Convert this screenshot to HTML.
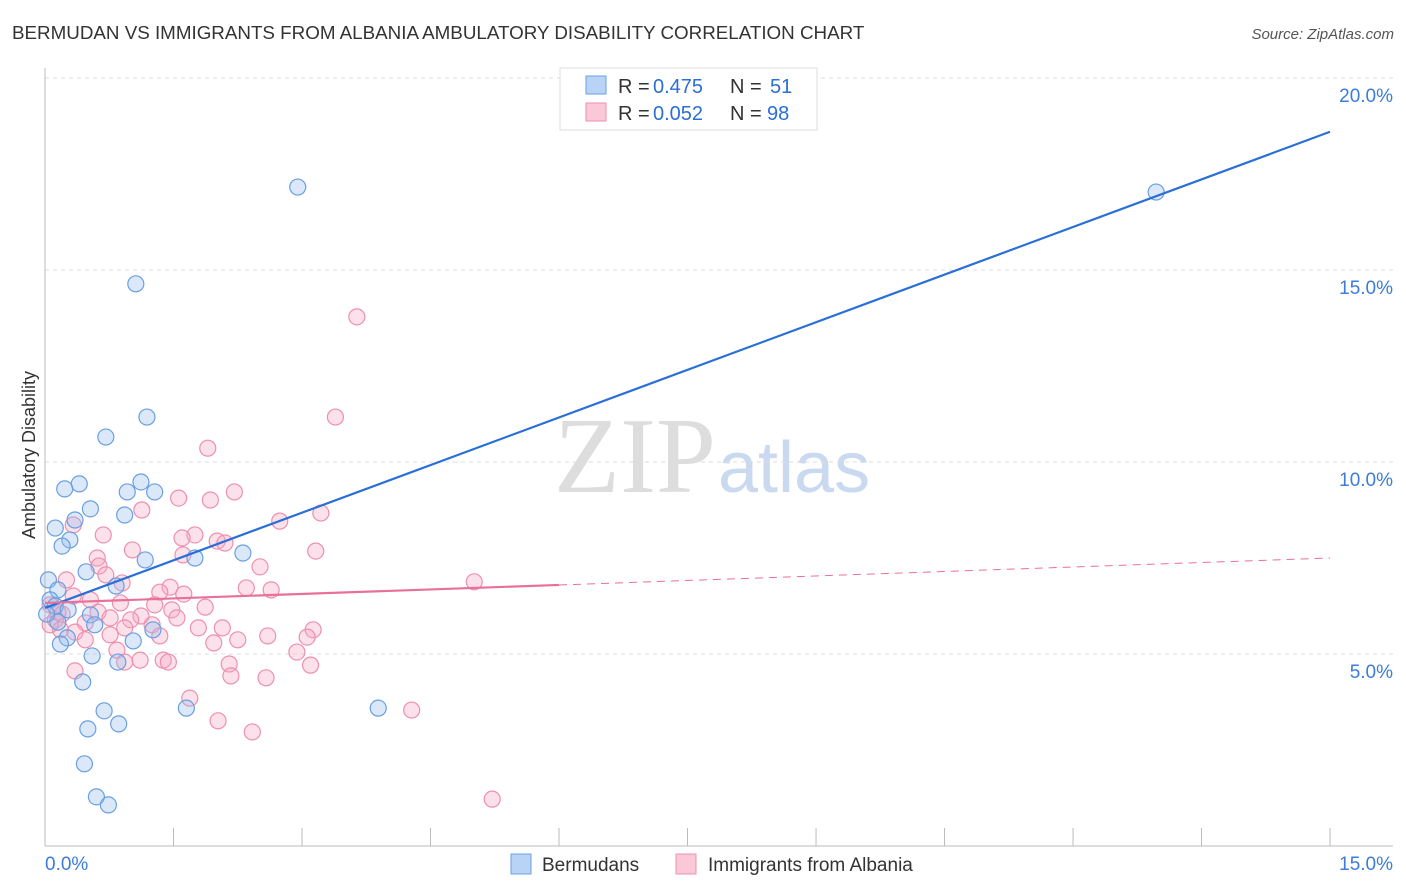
<!DOCTYPE html>
<html><head><meta charset="utf-8"><style>
body{margin:0;background:#fff;font-family:"Liberation Sans",sans-serif;}
svg{display:block;font-family:"Liberation Sans",sans-serif}
</style></head><body>
<svg width="1406" height="892" xmlns="http://www.w3.org/2000/svg">
<text x="12" y="39" font-size="18.8" fill="#333">BERMUDAN VS IMMIGRANTS FROM ALBANIA AMBULATORY DISABILITY CORRELATION CHART</text>
<text x="1394" y="39" font-size="15" fill="#555" font-style="italic" text-anchor="end">Source: ZipAtlas.com</text>
<text x="716" y="492" font-size="108" fill="#ddd" text-anchor="end" font-family="Liberation Serif">ZIP</text>
<text x="718" y="492" font-size="72" fill="#c9d9f0">atlas</text>
<g id="grid"></g>
<g id="axes"></g>
<g id="pts"></g>
<g id="lines"></g>
<text x="35" y="455" font-size="18" fill="#333" transform="rotate(-90 35 455)" text-anchor="middle">Ambulatory Disability</text>
<g>
<rect x="560" y="68" width="257" height="62" fill="#fff" stroke="#ddd"/>
<rect x="586" y="76" width="20" height="18" fill="#b8d3f5" stroke="#6a9fe0"/>
<rect x="586" y="103" width="20" height="18" fill="#fbc8d8" stroke="#ee8fae"/>
<text x="618" y="93" font-size="20" fill="#333">R =</text>
<text x="653" y="93" font-size="20" fill="#2a6fd6">0.475</text>
<text x="730" y="93" font-size="20" fill="#333">N =</text>
<text x="770" y="93" font-size="20" fill="#2a6fd6">51</text>
<text x="618" y="120" font-size="20" fill="#333">R =</text>
<text x="653" y="120" font-size="20" fill="#2a6fd6">0.052</text>
<text x="730" y="120" font-size="20" fill="#333">N =</text>
<text x="767" y="120" font-size="20" fill="#2a6fd6">98</text>
</g>
<g>
<rect x="511" y="854" width="20" height="20" fill="#b8d3f5" stroke="#6a9fe0"/>
<text x="542" y="871" font-size="19" fill="#333">Bermudans</text>
<rect x="676" y="854" width="20" height="20" fill="#fbc8d8" stroke="#ee8fae"/>
<text x="708" y="871" font-size="19" fill="#333">Immigrants from Albania</text>
</g>
</svg>
<script>
const yTicks=[5,10,15,20];
const yTickLabels=["5.0%","10.0%","15.0%","20.0%"];
const xLabels=["0.0%","15.0%"];
const blueX=[2.95,12.97,1.06,1.19,0.71,0.40,0.23,0.96,1.28,1.12,0.53,0.93,0.35,0.12,0.29,0.20,2.31,1.17,1.75,0.48,0.04,0.15,0.83,0.06,0.12,0.27,0.53,0.15,0.58,1.26,0.26,0.18,1.03,0.55,0.85,0.44,0.69,1.65,3.89,0.86,0.50,0.46,0.60,0.74,0.02];
const blueY=[17.16,17.03,14.64,11.17,10.65,9.43,9.30,9.22,9.22,9.48,8.78,8.62,8.49,8.28,7.97,7.81,7.63,7.45,7.50,7.14,6.93,6.67,6.77,6.41,6.25,6.15,6.02,5.83,5.76,5.63,5.42,5.26,5.34,4.95,4.79,4.27,3.52,3.59,3.59,3.18,3.05,2.14,1.28,1.07,6.04];
const pinkX=[3.64,3.39,1.90,2.21,1.56,1.93,1.13,3.22,2.74,0.33,0.68,1.75,1.60,2.01,2.10,1.02,3.16,1.61,0.61,0.63,2.51,0.71,0.25,0.90,5.01,2.35,2.64,1.46,1.34,1.62,0.33,0.53,0.88,1.28,1.87,1.48,0.62,0.20,1.12,1.54,1.00,0.76,0.12,0.47,1.25,1.79,2.07,3.13,0.93,0.18,0.35,0.76,2.60,2.25,0.47,3.06,1.97,1.34,0.84,2.94,1.11,1.38,1.44,2.15,3.10,0.93,0.35,2.17,2.58,1.69,4.28,2.02,2.42,5.22,0.06,0.06,0.15];
const pinkY=[13.78,11.17,10.36,9.22,9.06,9.01,8.75,8.67,8.46,8.36,8.10,8.10,8.02,7.94,7.89,7.71,7.68,7.58,7.50,7.29,7.27,7.06,6.93,6.85,6.88,6.72,6.67,6.74,6.61,6.56,6.51,6.41,6.33,6.28,6.22,6.15,6.09,6.04,5.99,5.94,5.89,5.94,5.89,5.81,5.76,5.68,5.68,5.63,5.68,5.63,5.57,5.50,5.47,5.37,5.37,5.44,5.29,5.47,5.10,5.05,4.84,4.84,4.79,4.74,4.71,4.79,4.56,4.43,4.38,3.85,3.54,3.26,2.97,1.22,6.28,5.76,6.09];
const blueTrend=[6.2,18.6];
const pinkTrend=[6.33,7.5];
const X=v=>45+v*85.67, Y=v=>846-v*38.4;
const NS="http://www.w3.org/2000/svg";
function mk(p,t,a){const e=document.createElementNS(NS,t);for(const k in a)e.setAttribute(k,a[k]);p.appendChild(e);return e;}
const grid=document.getElementById('grid'),axes=document.getElementById('axes'),pts=document.getElementById('pts'),lines=document.getElementById('lines');
yTicks.forEach((t,i)=>{
 const g=mk(grid,'line',{x1:45,x2:1393,y1:Y(t),y2:Y(t),stroke:'#ddd','stroke-dasharray':'4 4'});
 
 
 const l=mk(axes,'text',{x:1393,y:Y(t)+24,'font-size':19,fill:'#3b7dd8','text-anchor':'end'});
 l.textContent=yTickLabels[i];
 
 
});
const tg=mk(grid,'line',{x1:45,x2:1393,y1:78,y2:78,stroke:'#ddd','stroke-dasharray':'4 4'});


const ya=mk(axes,'line',{x1:45,x2:45,y1:68,y2:846,stroke:'#bbb'});


const xa=mk(axes,'line',{x1:45,x2:1393,y1:846,y2:846,stroke:'#bbb'});


for(let i=0;i<=10;i++){
 const t=mk(axes,'line',{x1:X(i*1.5),x2:X(i*1.5),y1:828,y2:846,stroke:'#bbb'});
 
 
}
[[0,'start'],[15,'end']].forEach((d,i)=>{
 const l=mk(axes,'text',{x:i?1393:45,y:870,'font-size':19,fill:'#3b7dd8','text-anchor':d[1]});
 l.textContent=xLabels[i];
 
 
});
pinkX.forEach((x,i)=>{
 const c=mk(pts,'circle',{cx:X(x),cy:Y(pinkY[i]),r:8,fill:'rgba(247,170,196,0.35)',stroke:'#ee8fae','stroke-width':1.2});
 
 
});
blueX.forEach((x,i)=>{
 const c=mk(pts,'circle',{cx:X(x),cy:Y(blueY[i]),r:8,fill:'rgba(150,190,240,0.35)',stroke:'#6a9fe0','stroke-width':1.2});
 
 
});
const bl=mk(lines,'line',{x1:X(0),y1:Y(blueTrend[0]),x2:X(15),y2:Y(blueTrend[1]),stroke:'#2a6fd6','stroke-width':2.2});


const pm=v=>pinkTrend[0]+(pinkTrend[1]-pinkTrend[0])*v/15;
const pl=mk(lines,'line',{x1:X(0),y1:Y(pm(0)),x2:X(6),y2:Y(pm(6)),stroke:'#e8709a','stroke-width':2.2});


const pd=mk(lines,'line',{x1:X(6),y1:Y(pm(6)),x2:X(15),y2:Y(pm(15)),stroke:'#e8709a','stroke-width':1,'stroke-dasharray':'8 6'});


</script>
</body></html>
